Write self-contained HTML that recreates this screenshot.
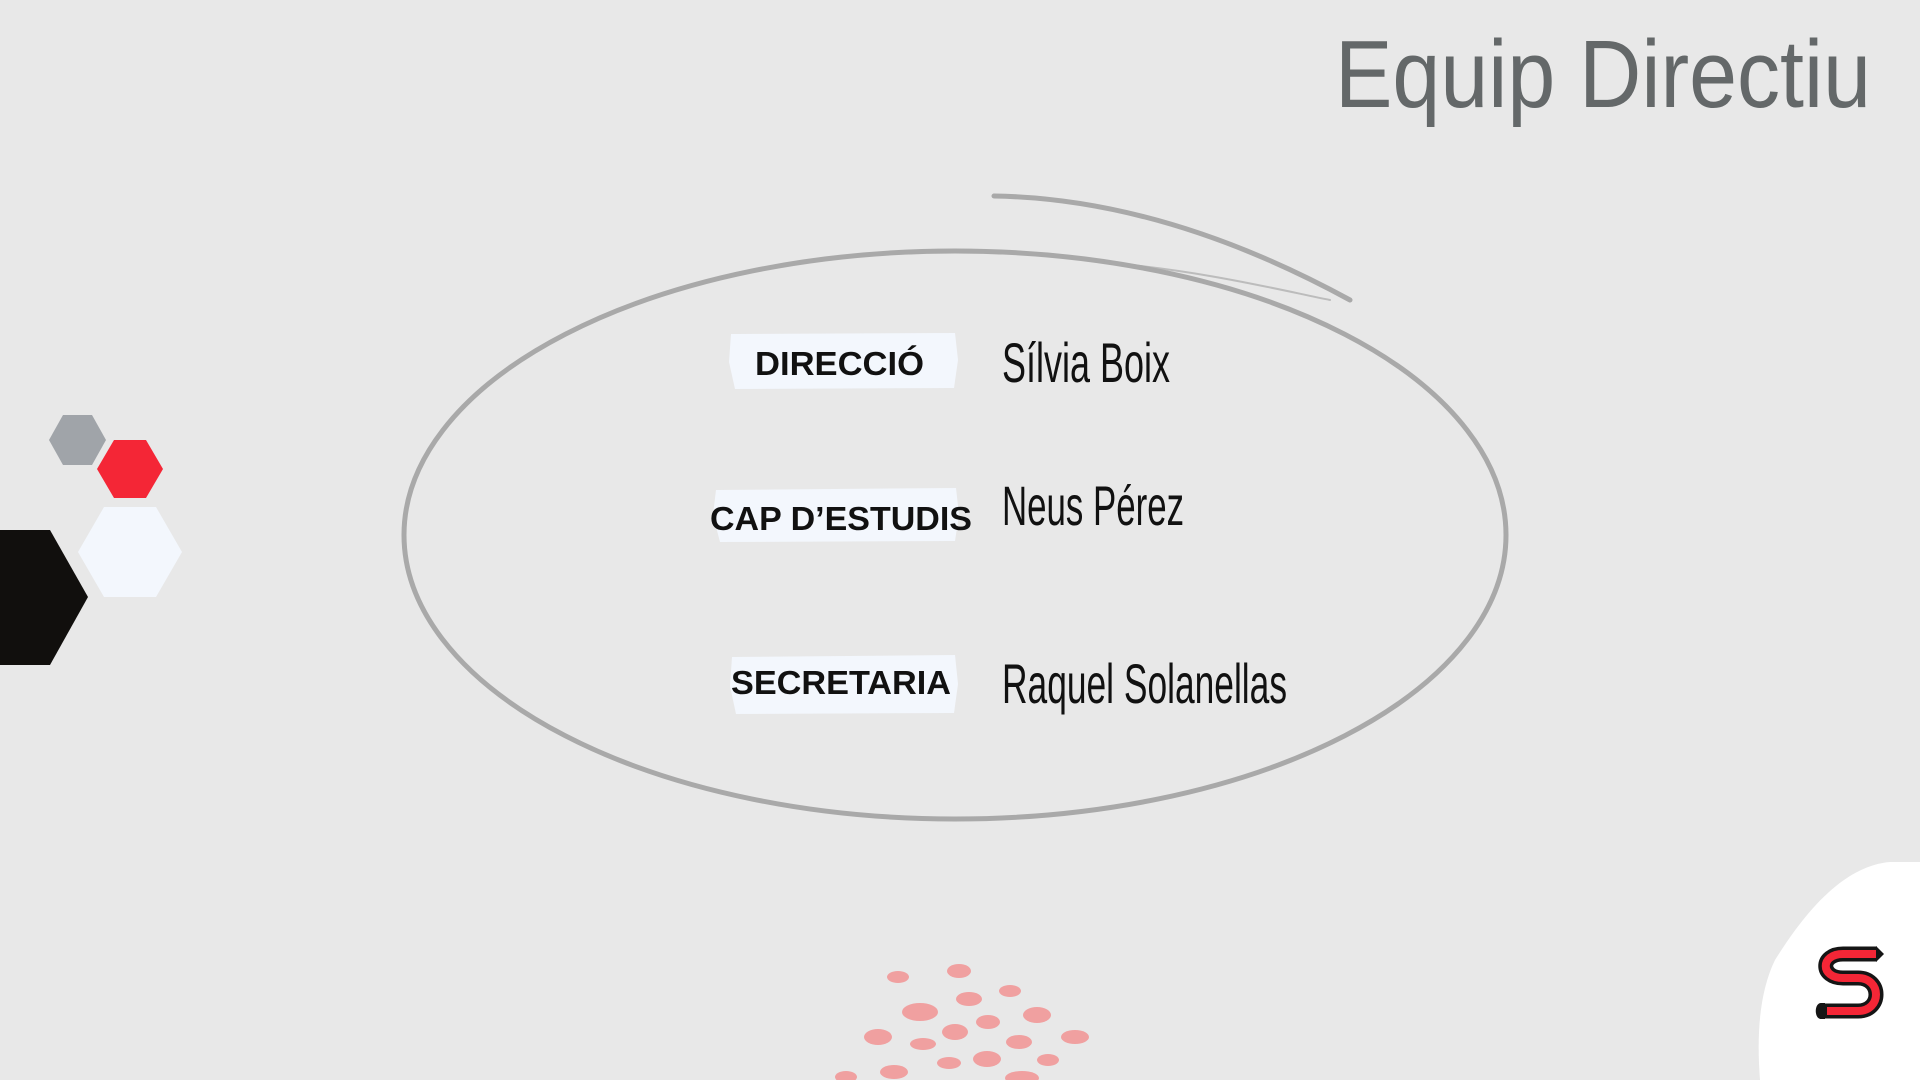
<!DOCTYPE html>
<html><head><meta charset="utf-8"><style>
html,body{margin:0;padding:0;background:#e8e8e8;width:1920px;height:1080px;overflow:hidden}
svg{display:block}
</style></head><body>
<svg width="1920" height="1080" viewBox="0 0 1920 1080" xmlns="http://www.w3.org/2000/svg">
<rect width="1920" height="1080" fill="#e8e8e8"/>
<text x="1335" y="107" font-family="Liberation Sans, sans-serif" font-size="96" fill="#646869" textLength="536" lengthAdjust="spacingAndGlyphs">Equip Directiu</text>
<g fill="none" stroke="#a9a9a9" stroke-width="5" stroke-linecap="round">
<ellipse cx="955" cy="535" rx="551" ry="284"/>
<path d="M994 196 C1120 198 1240 240 1350 300"/>
<path d="M1100 262 C1200 270 1280 290 1330 300" stroke-width="2" opacity="0.7"/>
</g>
<polygon points="49,440 63,415 92,415 106,440 92,465 63,465" fill="#a0a4a9"/>
<polygon points="97,469 114,440 146,440 163,469 146,498 114,498" fill="#f42636"/>
<polygon points="78,552 104,507 156,507 182,552 156,597 104,597" fill="#f3f7fd"/>
<polygon points="-64,597 -26,530 50,530 88,597 50,665 -26,665" fill="#110f0d"/>
<g fill="#f3f7fd">
<path d="M731 334 L955 333 L958 360 L954 388 L735 389 L729 362 Z"/>
<path d="M716 490 L956 488 L959 515 L955 541 L720 542 L713 515 Z"/>
<path d="M732 657 L955 655 L958 684 L954 713 L736 714 L730 686 Z"/>
</g>
<g font-family="Liberation Sans, sans-serif" font-weight="bold" font-size="33" fill="#111">
<text x="755" y="375" textLength="169" lengthAdjust="spacingAndGlyphs">DIRECCIÓ</text>
<text x="710" y="530" textLength="262" lengthAdjust="spacingAndGlyphs">CAP D’ESTUDIS</text>
<text x="731" y="694" textLength="220" lengthAdjust="spacingAndGlyphs">SECRETARIA</text>
</g>
<g font-family="Liberation Sans Narrow, Liberation Sans, sans-serif" font-size="56" fill="#111">
<text x="1002" y="382" textLength="168" lengthAdjust="spacingAndGlyphs">Sílvia Boix</text>
<text x="1002" y="525" textLength="182" lengthAdjust="spacingAndGlyphs">Neus Pérez</text>
<text x="1002" y="703" textLength="285" lengthAdjust="spacingAndGlyphs">Raquel Solanellas</text>
</g>
<g fill="#f0a0a0">
<ellipse cx="898" cy="977" rx="11" ry="6"/>
<ellipse cx="959" cy="971" rx="12" ry="7"/>
<ellipse cx="1010" cy="991" rx="11" ry="6"/>
<ellipse cx="969" cy="999" rx="13" ry="7"/>
<ellipse cx="920" cy="1012" rx="18" ry="9"/>
<ellipse cx="1037" cy="1015" rx="14" ry="8"/>
<ellipse cx="988" cy="1022" rx="12" ry="7"/>
<ellipse cx="955" cy="1032" rx="13" ry="8"/>
<ellipse cx="878" cy="1037" rx="14" ry="8"/>
<ellipse cx="1075" cy="1037" rx="14" ry="7"/>
<ellipse cx="923" cy="1044" rx="13" ry="6"/>
<ellipse cx="1019" cy="1042" rx="13" ry="7"/>
<ellipse cx="987" cy="1059" rx="14" ry="8"/>
<ellipse cx="949" cy="1063" rx="12" ry="6"/>
<ellipse cx="1048" cy="1060" rx="11" ry="6"/>
<ellipse cx="894" cy="1072" rx="14" ry="7"/>
<ellipse cx="846" cy="1077" rx="11" ry="6"/>
<ellipse cx="1022" cy="1078" rx="17" ry="7"/>
</g>
<path d="M1920 862 L1890 862 C1840 866 1800 920 1775 960 C1758 995 1757 1040 1760 1080 L1920 1080 Z" fill="#ffffff"/>
<g fill="none">
<path d="M1877 954 L1843 954 C1820 954 1820 978 1843 978 L1858 978 C1882 978 1882 1011 1858 1011 L1825 1011" stroke="#151515" stroke-width="15"/>
<path d="M1877 954 L1843 954 C1820 954 1820 978 1843 978 L1858 978 C1882 978 1882 1011 1858 1011 L1827 1011" stroke="#f42636" stroke-width="8"/>
</g>
<polygon points="1876,946 1884,954 1876,962" fill="#151515"/>
<path d="M1825 1003 L1821 1003 C1814 1003 1814 1019 1821 1019 L1825 1019 Z" fill="#151515"/>
</svg>
</body></html>
